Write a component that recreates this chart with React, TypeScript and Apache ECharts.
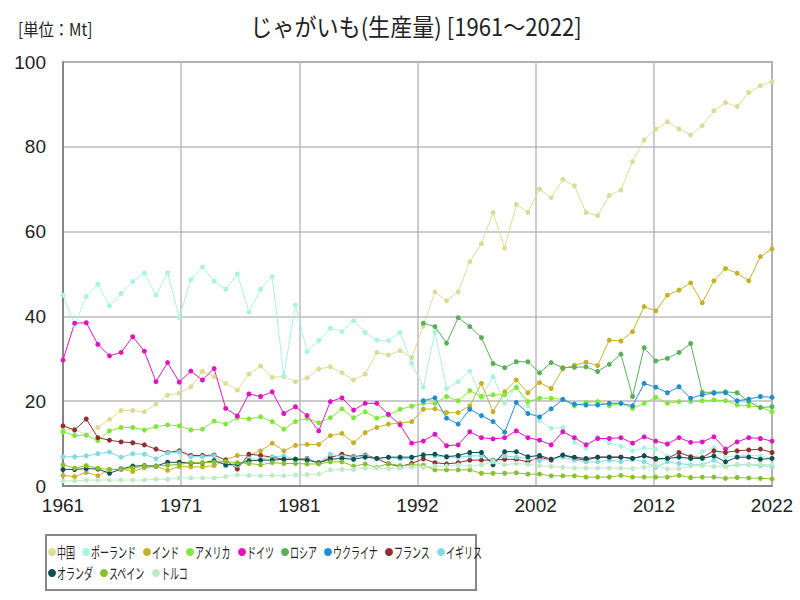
import React, { useEffect, useRef } from "react";
import * as echarts from "echarts";

// ---- data (million tonnes) ----
const START_YEAR = 1961;
const END_YEAR = 2022;
const FSU_START_YEAR = 1992; // Russia / Ukraine start
const Y_TICKS = [0, 20, 40, 60, 80, 100];

const SERIES_NAMES = ["中国", "ポーランド", "インド", "アメリカ", "ドイツ", "ロシア", "ウクライナ", "フランス", "イギリス", "オランダ", "スペイン", "トルコ"];
const SERIES_COLORS = ["#dcdc96", "#aaf3df", "#c6b22a", "#80e83c", "#e014c0", "#58b058", "#1f8fd0", "#8e3030", "#80dce0", "#105050", "#88c030", "#bfeac6"];

const china = [13.2, 13.4, 12.0, 13.8, 15.7, 17.8, 17.8, 17.5, 19.3, 21.4, 21.9, 23.4, 27.0, 25.8, 24.2, 22.6, 26.4, 28.3, 25.6, 25.8, 24.6, 25.5, 27.6, 28.1, 26.7, 25.0, 26.4, 31.5, 30.9, 31.9, 30.3, 37.7, 45.8, 43.7, 45.8, 52.9, 57.2, 64.5, 56.1, 66.4, 64.5, 70.0, 68.0, 72.3, 70.8, 64.5, 63.8, 68.5, 69.8, 76.5, 81.6, 84.2, 85.9, 84.2, 82.8, 85.0, 88.5, 90.4, 89.5, 92.8, 94.4, 95.4];
const poland = [45.0, 38.0, 44.7, 47.6, 42.5, 45.4, 48.2, 50.2, 45.0, 50.3, 39.7, 48.7, 51.7, 48.3, 46.4, 50.0, 41.0, 46.4, 49.4, 26.0, 42.7, 31.7, 34.3, 37.2, 36.4, 39.0, 36.2, 34.4, 34.3, 36.2, 28.9, 23.3, 36.4, 23.0, 24.6, 27.1, 20.9, 25.8, 19.5, 23.4, 18.9, 15.4, 13.6, 13.8, 10.3, 8.9, 11.6, 10.2, 9.4, 8.3, 9.0, 8.7, 7.1, 7.1, 6.3, 8.1, 9.0, 6.8, 7.1, 7.3, 7.1, 6.5];
const india = [2.5, 2.2, 3.2, 2.4, 3.9, 4.0, 3.4, 4.3, 4.6, 3.7, 4.6, 4.5, 4.5, 4.8, 6.2, 7.2, 7.2, 8.3, 10.1, 8.3, 9.6, 9.8, 9.8, 11.9, 12.4, 10.2, 12.6, 13.8, 14.6, 14.8, 15.2, 18.1, 18.2, 17.3, 17.3, 18.9, 24.2, 17.5, 22.2, 25.0, 22.0, 24.4, 23.0, 27.6, 28.5, 29.2, 28.4, 34.4, 34.2, 36.4, 42.3, 41.3, 45.0, 46.2, 47.9, 43.2, 48.4, 51.3, 50.2, 48.4, 54.1, 55.9];
const usa = [12.8, 11.9, 12.0, 10.7, 13.0, 13.8, 13.8, 13.2, 14.0, 14.4, 14.2, 13.2, 13.4, 15.3, 14.6, 16.1, 15.8, 16.3, 15.2, 13.4, 15.2, 16.0, 14.9, 16.1, 18.2, 16.1, 17.5, 16.0, 16.7, 18.1, 18.8, 19.5, 19.5, 21.1, 20.1, 22.5, 21.1, 21.5, 21.5, 23.2, 19.9, 20.7, 20.7, 20.4, 18.9, 19.7, 19.9, 18.9, 19.5, 18.3, 19.5, 20.9, 19.5, 19.9, 19.9, 20.1, 20.3, 20.1, 19.1, 18.9, 18.6, 17.5];
const germany = [29.7, 38.4, 38.5, 33.4, 30.7, 31.5, 35.2, 31.8, 24.6, 29.1, 24.5, 27.1, 25.0, 27.7, 18.3, 16.5, 21.7, 21.1, 22.2, 17.1, 18.7, 16.6, 13.0, 19.9, 20.8, 17.9, 19.5, 19.5, 16.9, 14.4, 10.1, 10.6, 12.2, 9.5, 9.7, 12.8, 11.4, 11.1, 11.4, 13.0, 11.4, 10.8, 9.7, 12.8, 11.4, 9.7, 11.2, 11.2, 11.4, 10.1, 11.6, 10.6, 9.9, 11.4, 10.3, 10.4, 11.6, 8.7, 10.4, 11.4, 11.2, 10.6];
const russia = [38.4, 37.6, 33.7, 39.7, 37.6, 35.0, 28.9, 27.9, 29.3, 29.3, 26.7, 29.1, 27.9, 28.0, 28.1, 27.0, 28.7, 31.1, 21.1, 32.6, 29.5, 30.1, 31.5, 33.6, 22.1, 22.1, 22.2, 22.0, 19.9, 18.5, 18.7];
const ukraine = [20.1, 20.8, 16.0, 14.6, 18.1, 16.6, 15.2, 12.7, 19.7, 17.1, 16.3, 18.2, 20.4, 19.3, 19.1, 19.1, 19.5, 19.5, 18.9, 24.2, 23.3, 22.0, 23.4, 20.7, 21.5, 21.9, 22.0, 20.1, 20.5, 21.1, 20.9];
const france = [14.2, 13.2, 15.8, 11.4, 10.8, 10.4, 10.2, 9.7, 8.7, 7.9, 8.3, 7.2, 7.2, 7.3, 6.1, 4.0, 7.5, 7.2, 6.8, 6.3, 6.3, 6.5, 5.4, 6.7, 7.5, 6.9, 7.3, 6.5, 5.2, 4.6, 5.3, 6.4, 5.5, 5.2, 5.5, 6.1, 6.1, 6.1, 6.3, 6.3, 5.7, 6.8, 6.1, 7.3, 6.5, 6.1, 6.8, 6.8, 6.8, 6.5, 7.1, 6.3, 6.5, 7.9, 6.9, 6.7, 8.3, 7.9, 8.3, 8.5, 8.7, 7.9];
const uk = [6.9, 6.9, 7.1, 7.6, 8.0, 6.8, 7.6, 7.5, 6.4, 7.8, 8.0, 6.9, 6.9, 7.1, 4.7, 4.9, 6.4, 6.3, 6.9, 7.1, 6.3, 6.4, 5.5, 7.5, 6.9, 6.7, 7.1, 6.4, 6.7, 6.4, 6.5, 7.5, 7.1, 6.8, 6.8, 7.1, 7.1, 6.0, 7.1, 6.8, 6.5, 6.0, 6.3, 6.8, 6.1, 5.7, 5.7, 6.1, 5.7, 6.3, 5.7, 4.4, 5.7, 5.3, 5.0, 5.0, 6.1, 4.6, 5.0, 5.0, 4.8, 4.6];
const netherlands = [3.9, 3.9, 4.1, 4.0, 3.0, 4.0, 4.7, 4.8, 4.7, 5.6, 5.6, 5.4, 5.4, 6.0, 5.0, 5.2, 5.9, 6.1, 6.1, 6.3, 6.3, 6.1, 5.5, 6.3, 6.5, 6.3, 6.8, 6.5, 6.8, 6.8, 6.8, 7.3, 7.5, 6.9, 7.2, 7.9, 7.9, 5.0, 8.1, 8.1, 6.9, 7.2, 6.3, 7.3, 6.8, 6.5, 6.8, 6.8, 6.8, 6.5, 7.1, 6.5, 6.5, 6.8, 6.5, 6.5, 7.1, 5.7, 6.8, 6.8, 6.3, 6.5];
const spain = [5.0, 4.2, 4.8, 4.2, 3.9, 3.9, 4.2, 4.7, 4.7, 4.9, 5.1, 5.5, 5.5, 5.6, 5.8, 5.5, 5.3, 5.0, 5.5, 5.3, 5.3, 5.2, 5.2, 5.7, 5.7, 4.7, 5.2, 4.4, 5.3, 4.8, 5.0, 4.9, 3.8, 3.8, 3.8, 3.8, 3.0, 3.0, 3.0, 3.1, 2.8, 2.8, 2.4, 2.4, 2.4, 2.1, 2.1, 2.1, 2.5, 2.1, 2.1, 2.1, 2.1, 2.5, 2.0, 2.1, 2.1, 1.8, 2.0, 1.9, 1.8, 1.7];
const turkey = [1.2, 1.2, 1.4, 1.4, 1.4, 1.4, 1.4, 1.4, 1.6, 1.6, 1.9, 1.9, 1.9, 1.9, 2.2, 2.6, 2.5, 2.4, 2.5, 2.4, 2.6, 2.7, 2.8, 3.8, 3.9, 3.9, 4.2, 4.2, 4.1, 4.2, 4.4, 4.4, 4.7, 4.7, 5.0, 4.7, 5.0, 5.7, 5.0, 5.3, 5.1, 4.8, 4.6, 4.4, 4.2, 4.2, 4.2, 4.2, 4.2, 4.1, 4.4, 4.8, 4.0, 4.1, 4.7, 4.8, 4.6, 4.6, 5.1, 5.1, 5.1, 5.0];

const SERIES_VALUES: number[][] = [china, poland, india, usa, germany, russia, ukraine, france, uk, netherlands, spain, turkey];
const SERIES_START: number[] = [START_YEAR, START_YEAR, START_YEAR, START_YEAR, START_YEAR, FSU_START_YEAR, FSU_START_YEAR, START_YEAR, START_YEAR, START_YEAR, START_YEAR, START_YEAR];

// x axis: 6 units per year so the 6 evenly spaced grid lines fall on integers
const X_UNITS_PER_YEAR = 6;
const toX = (year: number) => (year - START_YEAR) * X_UNITS_PER_YEAR;

const FONT = "'Noto Sans CJK JP', 'Noto Sans', sans-serif";
const NUM_FONT = "'Liberation Sans Narrow', 'Liberation Sans', 'Noto Sans CJK JP', sans-serif";

export default function App() {
  const ref = useRef<HTMLDivElement | null>(null);

  useEffect(() => {
    document.body.style.margin = "0";
    if (!ref.current) return;
    const chart = echarts.init(ref.current, undefined, { renderer: "svg" });

    const series = SERIES_NAMES.map((name, i) => ({
      name,
      type: "line",
      data: SERIES_VALUES[i].map((v, k) => [toX(SERIES_START[i] + k), v]),
      symbol: "circle",
      symbolSize: 5,
      showSymbol: true,
      lineStyle: { width: 1, color: SERIES_COLORS[i] },
      itemStyle: { color: SERIES_COLORS[i] },
      emphasis: { disabled: true },
    }));

    // custom legend (condensed text like the reference)
    const legendEls: any[] = [
      {
        type: "rect",
        shape: { x: 46, y: 535, width: 430, height: 55 },
        style: { fill: "#fff", stroke: "#888", lineWidth: 2 },
        z: 10,
      },
    ];
    const rows = [SERIES_NAMES.slice(0, 9), SERIES_NAMES.slice(9)];
    const LEG_FS = 15;
    const LEG_SX = 0.6;
    let idx = 0;
    rows.forEach((row, r) => {
      let x = 48;
      const y = 552 + r * 21;
      row.forEach((name) => {
        const c = SERIES_COLORS[idx++];
        legendEls.push({ type: "circle", shape: { cx: x + 4, cy: y, r: 4 }, style: { fill: c }, z: 11 });
        legendEls.push({
          type: "text",
          x: x + 9,
          y,
          scaleX: LEG_SX,
          z: 11,
          style: { text: name, fontSize: LEG_FS, fontFamily: FONT, fill: "#222", textAlign: "left", textVerticalAlign: "middle" },
        });
        x += 9 + name.length * LEG_FS * LEG_SX + 7;
      });
    });

    chart.setOption({
      animation: false,
      backgroundColor: "#fff",
      grid: { left: 63, right: 28, top: 62, bottom: 114, show: true, borderColor: "#777", borderWidth: 1.5, backgroundColor: "transparent" },
      xAxis: {
        type: "value",
        min: toX(START_YEAR),
        max: toX(END_YEAR),
        interval: ((END_YEAR - START_YEAR) * X_UNITS_PER_YEAR) / 6,
        axisLine: { show: true, lineStyle: { color: "#777", width: 1.5 } },
        axisTick: { show: false },
        splitLine: { show: true, lineStyle: { color: "#bbb", width: 1.5 } },
        axisLabel: {
          formatter: (v: number) => String(Math.round(v / X_UNITS_PER_YEAR + START_YEAR)),
          fontSize: 19,
          fontFamily: NUM_FONT,
          color: "#222",
          margin: 10,
        },
      },
      yAxis: {
        type: "value",
        min: Y_TICKS[0],
        max: Y_TICKS[Y_TICKS.length - 1],
        interval: Y_TICKS[1] - Y_TICKS[0],
        axisLine: { show: true, lineStyle: { color: "#777", width: 1.5 } },
        axisTick: { show: false },
        splitLine: { show: true, lineStyle: { color: "#bbb", width: 1.5 } },
        axisLabel: { fontSize: 19, fontFamily: NUM_FONT, color: "#222", margin: 17 },
      },
      series,
      graphic: [
        {
          type: "text",
          x: 416,
          y: 26,
          scaleX: 0.92,
          style: { text: "じゃがいも(生産量) [1961～2022]", fontSize: 24, fontFamily: FONT, fill: "#222", textAlign: "center", textVerticalAlign: "middle" },
        },
        {
          type: "text",
          x: 18,
          y: 29,
          scaleX: 0.9,
          style: { text: "[単位：Mt]", fontSize: 17, fontFamily: FONT, fill: "#222", textAlign: "left", textVerticalAlign: "middle" },
        },
        ...legendEls,
      ],
    });

    return () => chart.dispose();
  }, []);

  return <div ref={ref} style={{ width: 800, height: 600 }} />;
}
